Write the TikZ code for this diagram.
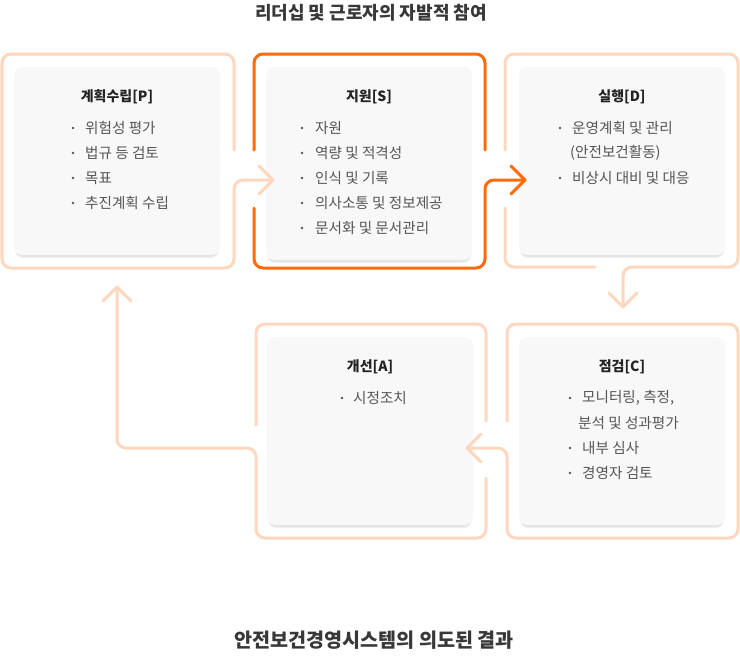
\documentclass[tikz,border=0pt]{standalone}
\usepackage{fontspec}
\setmainfont{Noto Sans CJK KR}
\definecolor{lo}{HTML}{FFD7BF}
\definecolor{dor}{HTML}{FF6A0A}
\definecolor{cardbg}{HTML}{F8F8F8}
\definecolor{itemc}{HTML}{555555}
\definecolor{ttlc}{HTML}{222222}
\definecolor{shad}{HTML}{E2E2E2}
\begin{document}
\begin{tikzpicture}[x=1pt,y=-1pt,
  frame/.style={line width=3pt,rounded corners=9pt,line cap=round,line join=round},
  lframe/.style={frame,draw=lo},
  dframe/.style={frame,draw=dor},
  chev/.style={line width=3pt,line cap=round,line join=round},
  ttl/.style={font=\fontsize{14}{16}\selectfont\bfseries,text=ttlc,inner sep=0pt},
  item/.style={font=\fontsize{14.6}{16}\selectfont,text=itemc,inner sep=0pt,anchor=west},
  big/.style={font=\fontsize{18}{20}\selectfont\bfseries,text=ttlc!90,inner sep=0pt},
  bigb/.style={font=\fontsize{19.6}{22}\selectfont\bfseries,text=ttlc!90,inner sep=0pt}]
\useasboundingbox (0,0) rectangle (740,656);

% cards with shadow
\newcommand{\mkcard}[5]{%
  \fill[shad!60] (#2+1,#3+1) [rounded corners=8pt] rectangle (#4-1,#5+3);
  \fill[shad] (#2+1,#3+1) [rounded corners=8pt] rectangle (#4-1,#5+1.5);
  \fill[cardbg,rounded corners=8pt] (#2,#3) rectangle (#4,#5);
  \coordinate (#1) at ({(#2+#4)/2},{(#3+#5)/2});}
\mkcard{cP}{14}{67}{220}{255}
\mkcard{cS}{266}{67}{472}{260}
\mkcard{cD}{519}{67}{725}{255}
\mkcard{cA}{267}{337}{473}{525}
\mkcard{cC}{519}{337}{725}{525}

% frame P
\draw[lframe] (234,150) -- (234,54) -- (2,54) -- (2,268) -- (234,268) -- (234,180) -- (273,180) coordinate (tPS);
\draw[chev,draw=lo] (259,166) -- (tPS) -- (259,194);
% frame S
\draw[dframe] (485,150) -- (485,54) -- (254,54) -- (254,150);
\draw[dframe] (254,208) -- (254,268) -- (485,268) -- (485,180) -- (525,180) coordinate (tSD);
\draw[chev,draw=dor] (511,166) -- (tSD) -- (511,194);
% frame D
\draw[lframe] (505,150) -- (505,54) -- (738,54) -- (738,267) -- (623,267) -- (623,307) coordinate (tDC);
\draw[lframe] (505,208) -- (505,267) -- (595,267);
\draw[chev,draw=lo] (609,293) -- (tDC) -- (637,293);
% frame C
\draw[lframe] (507,421) -- (507,324) -- (738,324) -- (738,538) -- (507,538) -- (507,448) -- (467,448) coordinate (tCA);
\draw[chev,draw=lo] (481,434) -- (tCA) -- (481,462);
% frame A
\draw[lframe] (486,421) -- (486,324) -- (256,324) -- (256,425);
\draw[lframe] (486,478) -- (486,538) -- (256,538) -- (256,448) -- (117,448) -- (117,287) coordinate (tAP);
\draw[chev,draw=lo] (103,301) -- (tAP) -- (131,301);

% titles
\node[big] (top) at (371,13) {리더십 및 근로자의 자발적 참여};
\node[bigb] (bot) at (374,640) {안전보건경영시스템의 의도된 결과};

\node[ttl] (tP) at (117,97) {계획수립[P]};
\node[ttl] (tS) at (369,97) {지원[S]};
\node[ttl] (tD) at (622,97) {실행[D]};
\node[ttl] (tA) at (370,367) {개선[A]};
\node[ttl] (tC) at (622,367) {점검[C]};

% bullets
\newcommand{\bul}[2]{\fill[itemc] (#1,#2) circle (1.3pt);}
% P
\foreach \yy in {128,153,178,203} {\bul{73}{\yy}}
\node[item] (p1) at (85,128) {위험성 평가};
\node[item] (p2) at (85,153) {법규 등 검토};
\node[item] (p3) at (85,178) {목표};
\node[item] (p4) at (85,203) {추진계획 수립};
% S
\foreach \yy in {128,153,178,203,228} {\bul{302}{\yy}}
\node[item] (s1) at (315,128) {자원};
\node[item] (s2) at (315,153) {역량 및 적격성};
\node[item] (s3) at (315,178) {인식 및 기록};
\node[item] (s4) at (315,203) {의사소통 및 정보제공};
\node[item] (s5) at (315,228) {문서화 및 문서관리};
% D
\foreach \yy in {128,178} {\bul{560}{\yy}}
\node[item] (d1) at (572,128) {운영계획 및 관리};
\node[item] (d2) at (570,153) {(안전보건활동)};
\node[item] (d3) at (572,178) {비상시 대비 및 대응};
% A
\bul{342}{398}
\node[item] (a1) at (353,398) {시정조치};
% C
\foreach \yy in {398,448,473} {\bul{570}{\yy}}
\node[item] (c1) at (582,398) {모니터링, 측정,};
\node[item] (c2) at (578,423) {분석 및 성과평가};
\node[item] (c3) at (582,448) {내부 심사};
\node[item] (c4) at (582,473) {경영자 검토};
\end{tikzpicture}
\end{document}
